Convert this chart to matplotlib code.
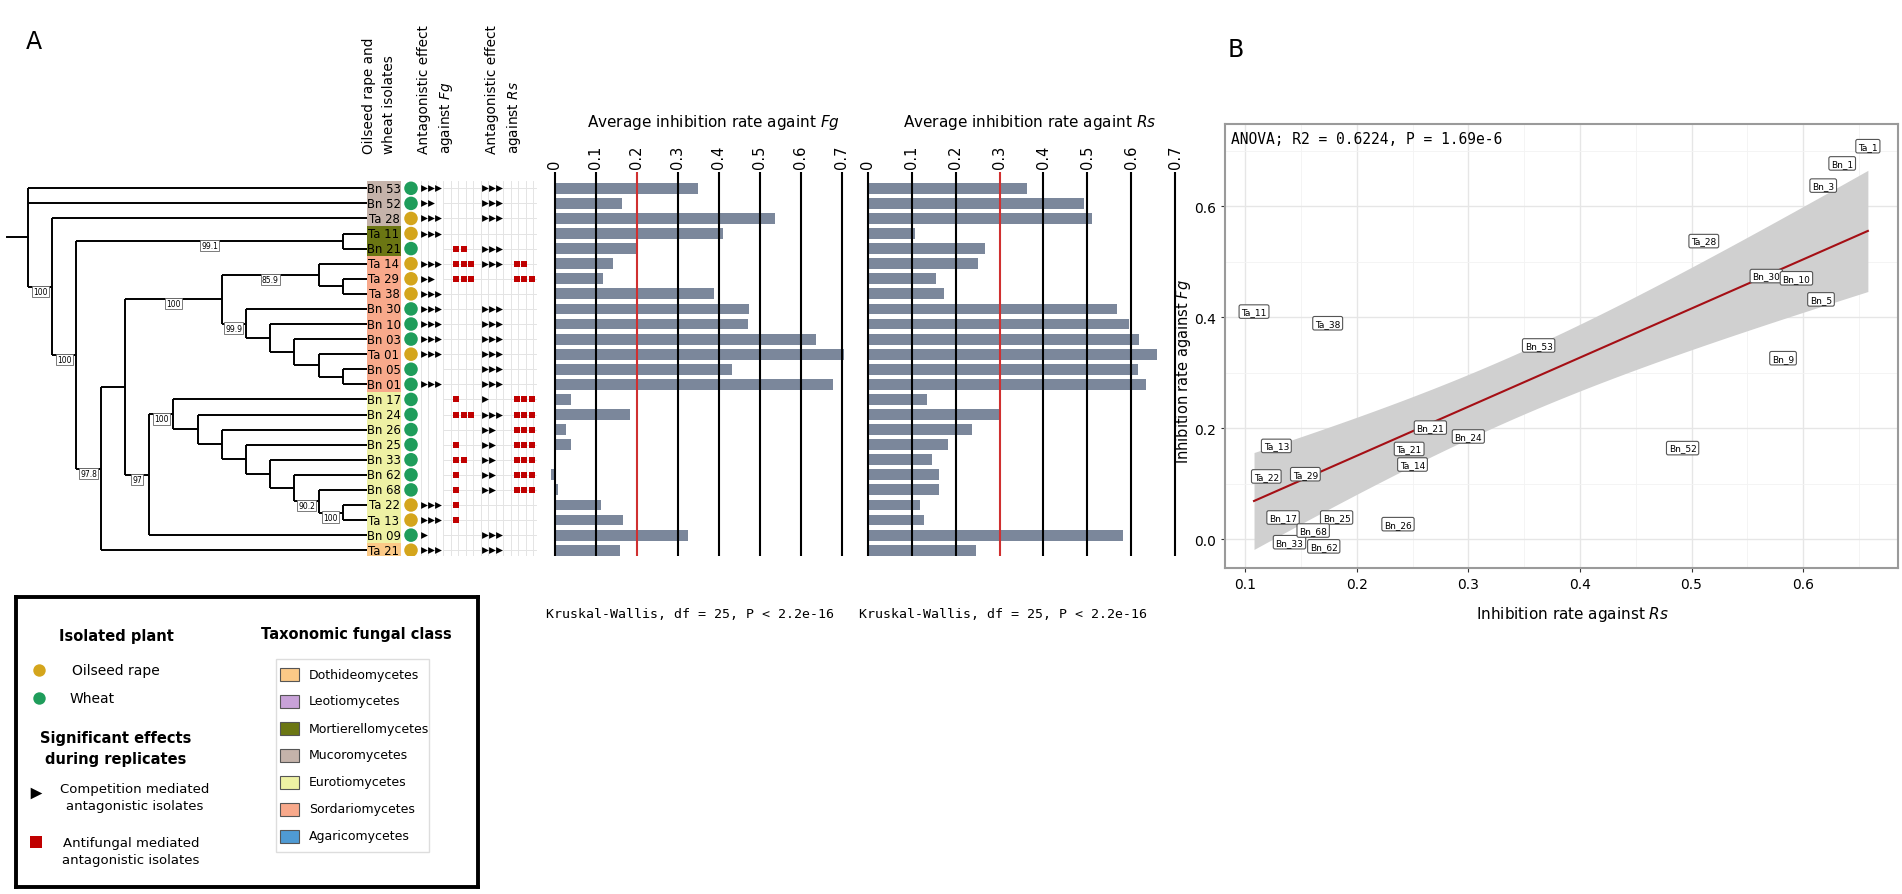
import numpy as np
import matplotlib
matplotlib.use('Agg')
import matplotlib.pyplot as plt
from matplotlib.patches import Rectangle

W, H = 1902, 895

# ---- data ----
isolates = ['Bn 53', 'Bn 52', 'Ta 28', 'Ta 11', 'Bn 21', 'Ta 14', 'Ta 29', 'Ta 38',
            'Bn 30', 'Bn 10', 'Bn 03', 'Ta 01', 'Bn 05', 'Bn 01', 'Bn 17', 'Bn 24',
            'Bn 26', 'Bn 25', 'Bn 33', 'Bn 62', 'Bn 68', 'Ta 22', 'Ta 13', 'Bn 09', 'Ta 21']
fungal_class = ['Mucoromycetes', 'Mucoromycetes', 'Mucoromycetes',
                'Mortierellomycetes', 'Mortierellomycetes',
                'Sordariomycetes', 'Sordariomycetes', 'Sordariomycetes', 'Sordariomycetes',
                'Sordariomycetes', 'Sordariomycetes', 'Sordariomycetes', 'Sordariomycetes',
                'Sordariomycetes',
                'Eurotiomycetes', 'Eurotiomycetes', 'Eurotiomycetes', 'Eurotiomycetes',
                'Eurotiomycetes', 'Eurotiomycetes', 'Eurotiomycetes', 'Eurotiomycetes',
                'Eurotiomycetes', 'Eurotiomycetes', 'Dothideomycetes']
plant = ['Wheat', 'Wheat', 'Oilseed rape', 'Oilseed rape', 'Wheat', 'Oilseed rape',
         'Oilseed rape', 'Oilseed rape', 'Wheat', 'Wheat', 'Wheat', 'Oilseed rape',
         'Wheat', 'Wheat', 'Wheat', 'Wheat', 'Wheat', 'Wheat', 'Wheat', 'Wheat', 'Wheat',
         'Oilseed rape', 'Oilseed rape', 'Wheat', 'Oilseed rape']

# significant replicates (out of 3)
fg_comp = [3, 2, 3, 3, 0, 3, 2, 3, 3, 3, 3, 3, 0, 3, 0, 0, 0, 0, 0, 0, 0, 3, 3, 1, 3]
fg_anti = [0, 0, 0, 0, 2, 3, 3, 0, 0, 0, 0, 0, 0, 0, 1, 3, 0, 1, 2, 1, 1, 1, 1, 0, 0]
rs_comp = [3, 3, 3, 0, 3, 3, 0, 0, 3, 3, 3, 3, 3, 3, 1, 3, 2, 2, 2, 2, 2, 0, 0, 3, 3]
rs_anti = [0, 0, 0, 0, 0, 2, 3, 0, 0, 0, 0, 0, 0, 0, 3, 3, 3, 3, 3, 3, 3, 0, 0, 0, 0]

fg_rate = [0.349, 0.164, 0.537, 0.410, 0.201, 0.142, 0.117, 0.389, 0.474, 0.470,
           0.637, 0.708, 0.432, 0.677, 0.039, 0.185, 0.027, 0.039, 0.002, -0.008,
           0.008, 0.113, 0.168, 0.326, 0.160]
rs_rate = [0.363, 0.492, 0.511, 0.108, 0.266, 0.250, 0.154, 0.174, 0.567, 0.594,
           0.618, 0.658, 0.616, 0.635, 0.134, 0.300, 0.237, 0.182, 0.146, 0.163,
           0.161, 0.119, 0.128, 0.582, 0.247]
fg_threshold = 0.2
rs_threshold = 0.3
rate_ticks = [0, 0.1, 0.2, 0.3, 0.4, 0.5, 0.6, 0.7]

# tree topology with bootstrap support
newick = ("(Bn 53,Bn 52,(Ta 28,((Ta 11,Bn 21)99.1,((((Ta 14,(Ta 29,Ta 38))85.9,"
          "(Bn 30,(Bn 10,(Bn 03,(Ta 01,(Bn 05,Bn 01)))))99.9)100,"
          "((Bn 17,(Bn 24,(Bn 26,(Bn 25,(Bn 33,(Bn 62,(Bn 68,(Ta 22,Ta 13)100)90.2))))))100,"
          "Bn 09)97),Ta 21)97.8)100)100);")

legend_classes = ['Dothideomycetes', 'Leotiomycetes', 'Mortierellomycetes', 'Mucoromycetes',
                  'Eurotiomycetes', 'Sordariomycetes', 'Agaricomycetes']
class_colors = {'Dothideomycetes': '#fbc987', 'Leotiomycetes': '#c8a2d8',
                'Mortierellomycetes': '#6b7613', 'Mucoromycetes': '#c5b3aa',
                'Eurotiomycetes': '#eef1a4', 'Sordariomycetes': '#f8a98b',
                'Agaricomycetes': '#4f9ad3'}
plant_colors = {'Oilseed rape': '#d4a51c', 'Wheat': '#1f9d5b'}
anova_text = 'ANOVA; R2 = 0.6224, P = 1.69e-6'
kw_text = 'Kruskal-Wallis, df = 25, P < 2.2e-16'

BAR_C = '#7b879b'
RED = '#c00000'


def px_rect(x0, y0, x1, y1):
    return [x0 / W, 1 - y1 / H, (x1 - x0) / W, (y1 - y0) / H]


def fx(x):
    return x / W


def fy(y):
    return 1 - y / H


def parse(s):
    pos = 0

    def node():
        nonlocal pos
        if s[pos] == '(':
            pos += 1
            kids = [node()]
            while s[pos] == ',':
                pos += 1
                kids.append(node())
            pos += 1
            start = pos
            while s[pos] not in ',);':
                pos += 1
            return {'kids': kids, 'support': s[start:pos]}
        start = pos
        while s[pos] not in ',);':
            pos += 1
        return {'name': s[start:pos]}
    return node()


def layout(n):
    if 'name' in n:
        n['y'] = isolates.index(n['name'])
        n['h'] = 0
    else:
        for k in n['kids']:
            layout(k)
        n['y'] = (n['kids'][0]['y'] + n['kids'][-1]['y']) / 2
        n['h'] = 1 + max(k['h'] for k in n['kids'])


tree = parse(newick)
layout(tree)
TIP_X = 367
STEP = (TIP_X - 28) / tree['h']


def draw_tree(ax, n):
    x = TIP_X - n['h'] * STEP
    ys = [k['y'] for k in n['kids']]
    ax.plot([x, x], [min(ys), max(ys)], color='black', lw=1.4, solid_capstyle='butt')
    for k in n['kids']:
        kx = TIP_X - k['h'] * STEP
        ax.plot([x, kx], [k['y'], k['y']], color='black', lw=1.4, solid_capstyle='butt')
        if 'kids' in k:
            if k['support']:
                ax.text((x + kx) / 2, k['y'] + 0.3, k['support'], fontsize=5.5,
                        ha='center', va='center', zorder=5,
                        bbox=dict(boxstyle='square,pad=0.15', fc='white', ec='#666666', lw=0.6))
            draw_tree(ax, k)


fig = plt.figure(figsize=(W / 100, H / 100), dpi=100)

rows = np.arange(len(isolates))
Y_TOP, Y_BOT = 173, 557
ylim = ((Y_BOT - 189.3) / 15.08, (Y_TOP - 189.3) / 15.08)

# ---- tree, labels, plant dots, antagonism markers ----
ax_t = fig.add_axes(px_rect(0, Y_TOP, 545, Y_BOT))
ax_t.set_xlim(0, 545)
ax_t.set_ylim(*ylim)
ax_t.axis('off')

root_x = TIP_X - tree['h'] * STEP
ax_t.plot([7, root_x], [tree['y'], tree['y']], color='black', lw=1.4)
draw_tree(ax_t, tree)

ax_t.barh(rows, 34, left=TIP_X, height=1.0,
          color=[class_colors[c] for c in fungal_class], zorder=2)
for r, name in zip(rows, isolates):
    ax_t.text(TIP_X + 17, r, name, ha='center', va='center', fontsize=8.4, zorder=3)
ax_t.scatter(np.full(len(rows), 411), rows, s=95,
             color=[plant_colors[p] for p in plant], zorder=3, linewidths=0)

# light grid behind the markers
for gx in np.arange(420.5, 537, 7.5):
    ax_t.plot([gx, gx], [-0.5, len(rows) - 0.5], color='#e4e4e4', lw=0.7, zorder=1)
for r in rows:
    ax_t.plot([443, 536], [r, r], color='#e4e4e4', lw=0.7, zorder=1)

groups = [(fg_comp, [424, 431, 438], '>', 'black', 24),
          (fg_anti, [456, 463.5, 471], 's', RED, 17),
          (rs_comp, [485, 492, 499], '>', 'black', 24),
          (rs_anti, [516.5, 524, 531.5], 's', RED, 17)]
for counts, xs, mk, col, size in groups:
    px, py = [], []
    for r, c in zip(rows, counts):
        px += xs[:c]
        py += [r] * c
    ax_t.scatter(px, py, marker=mk, color=col, s=size, linewidths=0, zorder=4)

# column headers
hdr = dict(rotation=90, ha='center', va='bottom', ma='left', fontsize=9.8, linespacing=1.5)
fig.text(fx(379), fy(154), 'Oilseed rape and\nwheat isolates', **hdr)
fig.text(fx(436), fy(154), 'Antagonistic effect\nagainst $\\it{Fg}$', **hdr)
fig.text(fx(504), fy(154), 'Antagonistic effect\nagainst $\\it{Rs}$', **hdr)

# ---- bar charts ----
def bar_panel(x0_px, x1_px, values, threshold, title, title_x):
    ax = fig.add_axes(px_rect(x0_px, Y_TOP, x1_px, Y_BOT))
    ax.set_xlim(-0.02, 0.705)
    ax.set_ylim(*ylim)
    ax.barh(rows, values, height=0.72, color=BAR_C, zorder=2)
    for t in rate_ticks:
        ax.axvline(t, color='#d03030' if np.isclose(t, threshold) else 'black',
                   lw=1.5, zorder=3)
    ax.xaxis.tick_top()
    ax.set_xticks(rate_ticks)
    ax.set_xticklabels([f'{t:g}' for t in rate_ticks], rotation=90)
    ax.tick_params(axis='x', length=0, pad=3, labelsize=10.5)
    ax.set_yticks([])
    for sp in ax.spines.values():
        sp.set_visible(False)
    ax.patch.set_alpha(0)
    fig.text(fx(title_x), fy(122), title, ha='center', va='center', fontsize=11)
    fig.text(fx(x0_px), fy(614), kw_text, ha='left', va='center',
             family='DejaVu Sans Mono', fontsize=9.5)
    return ax


bar_panel(546.3, 844, fg_rate, fg_threshold, 'Average inhibition rate againt $\\it{Fg}$', 713)
bar_panel(859.2, 1177.2, rs_rate, rs_threshold, 'Average inhibition rate againt $\\it{Rs}$', 1030)

# ---- legend box ----
ax_l = fig.add_axes(px_rect(16, 598, 478, 888))
ax_l.set_xlim(16, 478)
ax_l.set_ylim(888, 598)
ax_l.set_xticks([])
ax_l.set_yticks([])
for sp in ax_l.spines.values():
    sp.set_linewidth(2.8)
    sp.set_color('black')

ax_l.text(116, 637, 'Isolated plant', ha='center', va='center', fontsize=10.5, fontweight='bold')
for i, p in enumerate(['Oilseed rape', 'Wheat']):
    ax_l.scatter(39, 671 + 28 * i, s=80, color=plant_colors[p], linewidths=0)
    ax_l.text(72 - 2 * i, 671 + 28 * i, p, va='center', fontsize=10)
ax_l.text(116, 749, 'Significant effects\nduring replicates', ha='center', va='center',
          fontsize=10.5, fontweight='bold', linespacing=1.5)
ax_l.scatter(36, 794, marker='>', s=70, color='black', linewidths=0)
ax_l.text(135, 798, 'Competition mediated\nantagonistic isolates', ha='center', va='center',
          fontsize=9.5, linespacing=1.45)
ax_l.scatter(36, 843, marker='s', s=80, color=RED, linewidths=0)
ax_l.text(131, 852, 'Antifungal mediated\nantagonistic isolates', ha='center', va='center',
          fontsize=9.5, linespacing=1.45)

ax_l.text(356, 634, 'Taxonomic fungal class', ha='center', va='center',
          fontsize=10.5, fontweight='bold')
ax_l.add_patch(Rectangle((276, 660), 153, 193, fc='white', ec='#dddddd', lw=1))
for i, cls in enumerate(legend_classes):
    yc = 675 + 27 * i
    ax_l.add_patch(Rectangle((280, yc - 6.5), 19, 13, fc=class_colors[cls], ec='#555555', lw=0.8))
    ax_l.text(309, yc, cls, va='center', fontsize=9)

# ---- scatter with regression ----
ax_s = fig.add_axes(px_rect(1225, 125, 1898, 569))
xv = np.array(rs_rate)
yv = np.array(fg_rate)
n = len(xv)
b, a = np.polyfit(xv, yv, 1)
xs = np.linspace(xv.min(), xv.max(), 100)
fit = a + b * xs
s_res = np.sqrt(np.sum((yv - (a + b * xv)) ** 2) / (n - 2))
se = s_res * np.sqrt(1 / n + (xs - xv.mean()) ** 2 / np.sum((xv - xv.mean()) ** 2))
t_crit = 2.069
ax_s.fill_between(xs, fit - t_crit * se, fit + t_crit * se, color='#d0d0d0', lw=0, zorder=1)
ax_s.plot(xs, fit, color='#a50f15', lw=1.5, zorder=2)
ax_s.scatter(xv, yv, s=3, color='black', zorder=3)

point_labels = [nm.split()[0] + '_' + str(int(nm.split()[1])) for nm in isolates]
label_nudge = {'Bn_33': (-5, -3), 'Bn_62': (6, -2), 'Bn_68': (0, 3), 'Ta_14': (0, -3),
               'Ta_21': (0, 1)}
for lab, x, y in zip(point_labels, xv, yv):
    dx, dy = label_nudge.get(lab, (0, 0))
    ax_s.annotate(lab, (x, y), xytext=(dx, dy), textcoords='offset points',
                  ha='center', va='center', fontsize=6.5, zorder=4,
                  bbox=dict(boxstyle='round,pad=0.25,rounding_size=0.2',
                            fc='white', ec='#555555', lw=0.8))

ax_s.set_xlim(0.082, 0.685)
ax_s.set_ylim(-0.052, 0.748)
ax_s.set_xticks([0.1, 0.2, 0.3, 0.4, 0.5, 0.6])
ax_s.set_xticks([0.15, 0.25, 0.35, 0.45, 0.55, 0.65], minor=True)
ax_s.set_yticks([0.0, 0.2, 0.4, 0.6])
ax_s.set_yticks([0.1, 0.3, 0.5, 0.7], minor=True)
ax_s.grid(which='major', color='#e6e6e6', lw=1.0)
ax_s.grid(which='minor', color='#f3f3f3', lw=0.6)
ax_s.set_axisbelow(True)
ax_s.tick_params(which='major', length=3, color='#333333', labelsize=10)
ax_s.tick_params(which='minor', length=0)
for sp in ax_s.spines.values():
    sp.set_color('#9a9a9a')
    sp.set_linewidth(1.5)
ax_s.text(0.009, 0.985, anova_text, transform=ax_s.transAxes, ha='left', va='top',
          family='DejaVu Sans Mono', fontsize=10.5)
ax_s.set_xlabel('Inhibition rate against $\\it{Rs}$', fontsize=11)
ax_s.xaxis.set_label_coords(0.517, -0.08)
ax_s.set_ylabel('Inhibition rate against $\\it{Fg}$', fontsize=10.5)
ax_s.yaxis.set_label_coords(-0.048, 0.444)

fig.text(fx(34), fy(42), 'A', ha='center', va='center', fontsize=17)
fig.text(fx(1236), fy(50), 'B', ha='center', va='center', fontsize=17)

fig.savefig('out.png', dpi=100)
